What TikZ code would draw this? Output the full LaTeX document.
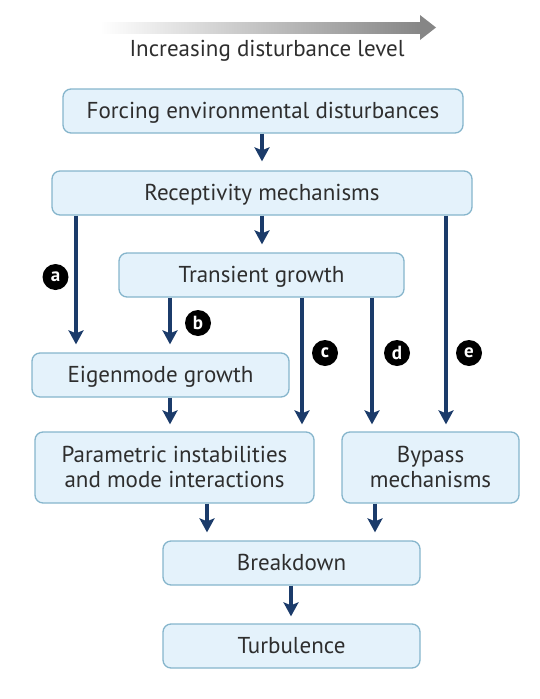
\documentclass[tikz,border=0pt]{standalone}
\usepackage{fontspec}
\setmainfont{PT Sans}
\usetikzlibrary{arrows.meta,calc}
\definecolor{boxfill}{HTML}{E4F2FB}
\definecolor{boxdraw}{HTML}{86B5CC}
\definecolor{navy}{HTML}{1B3B6A}
\definecolor{txt}{HTML}{2E2E2E}
\begin{document}
\begin{tikzpicture}[x=1pt,y=-1pt,
  box/.style={draw=boxdraw,line width=1.3pt,fill=boxfill,rounded corners=8pt,
    text=txt,font=\fontsize{23}{25}\selectfont,align=center,inner sep=0pt,text depth=1pt},
  arr/.style={draw=navy,line width=4pt,-{Stealth[length=14pt,width=15pt,inset=3pt]}},
  lab/.style={circle,fill=black,text=white,inner sep=0pt,minimum size=26pt,
    font=\fontsize{19}{19}\bfseries\selectfont}]
\useasboundingbox (0,0) rectangle (540,699);
% gradient arrow
\shade[left color=white,right color=gray!95] (100,22) rectangle (421,33);
\fill[gray!95] (420,15) -- (436,27.5) -- (420,40) -- cycle;
\node[text=txt,font=\fontsize{23}{25}\selectfont] (inc) at (267,51) {Increasing disturbance level};
% boxes
\node[box,minimum width=400pt,minimum height=44pt] (for) at (263,111) {Forcing environmental disturbances};
\node[box,minimum width=420pt,minimum height=44pt] (rec) at (262,193) {Receptivity mechanisms};
\node[box,minimum width=285pt,minimum height=44pt] (tra) at (261.5,275) {Transient growth};
\node[box,minimum width=257pt,minimum height=44pt] (eig) at (160.5,375) {Eigenmode growth};
\node[box,minimum width=279pt,minimum height=71pt] (par) at (174.5,467.5) {Parametric instabilities\\and mode interactions};
\node[box,minimum width=177pt,minimum height=71pt] (byp) at (430.5,467.5) {Bypass\\mechanisms};
\node[box,minimum width=257pt,minimum height=44pt] (bre) at (291.5,563) {Breakdown};
\node[box,minimum width=257pt,minimum height=44pt] (tur) at (291.5,646) {Turbulence};
% x positions
\coordinate (xa) at (76,0);
\coordinate (xb) at (170,0);
\coordinate (xc) at (302,0);
\coordinate (xd) at (372,0);
\coordinate (xe) at (446,0);
\coordinate (xm) at (262,0);
\coordinate (xp) at (207,0);
\coordinate (xq) at (375,0);
\coordinate (xt) at (291,0);
% arrows
\draw[arr] (for.south -| xm) -- ([yshift=9pt]rec.north -| xm);
\draw[arr] (rec.south -| xm) -- ([yshift=8pt]tra.north -| xm);
\draw[arr] (rec.south -| xa) -- ([yshift=8pt]eig.north -| xa);
\draw[arr] (tra.south -| xb) -- ([yshift=8pt]eig.north -| xb);
\draw[arr] (tra.south -| xc) -- ([yshift=7pt]par.north -| xc);
\draw[arr] (tra.south -| xd) -- ([yshift=7pt]par.north -| xd);
\draw[arr] (rec.south -| xe) -- ([yshift=7pt]byp.north -| xe);
\draw[arr] (eig.south -| xb) -- ([yshift=7pt]par.north -| xb);
\draw[arr] (par.south -| xp) -- ([yshift=8pt]bre.north -| xp);
\draw[arr] (byp.south -| xq) -- ([yshift=8pt]bre.north -| xq);
\draw[arr] (bre.south -| xt) -- ([yshift=7pt]tur.north -| xt);
% labels
\node[lab] (la) at (55.5,277) {a};
\node[lab] (lb) at (198,323) {b};
\node[lab] (lc) at (325,353) {c};
\node[lab] (ld) at (397,353) {d};
\node[lab] (le) at (469,353) {e};
\end{tikzpicture}
\end{document}
